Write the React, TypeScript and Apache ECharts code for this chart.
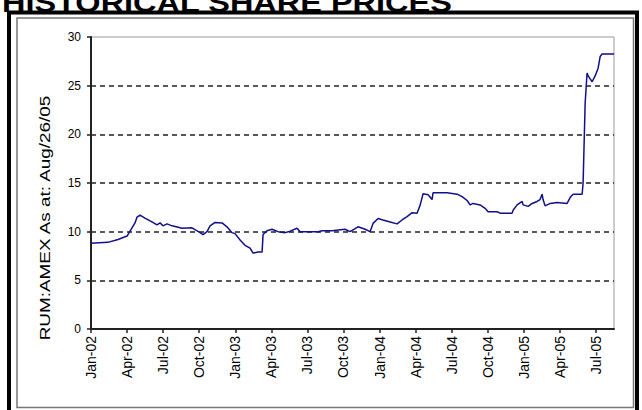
import React, { useEffect, useRef } from "react";
import * as echarts from "echarts";

// x = months since Jan-2002, y = share price (USD)
const months: number[] = [
  0, 1.41, 2.25, 3.0, 3.41, 3.66, 3.83, 4.08, 4.49, 5.07, 5.49, 5.74, 5.99, 6.32, 6.74, 7.57,
  8.4, 8.65, 9.07, 9.32, 9.65, 9.9, 10.32, 10.9, 11.31, 11.73, 11.98, 12.4, 12.81, 13.23, 13.48,
  13.89, 14.23, 14.31, 14.64, 15.06, 15.56, 16.14, 16.56, 17.14, 17.39, 18.89, 19.22, 20.05,
  21.13, 21.55, 22.21, 22.8, 23.21, 23.46, 23.88, 24.29, 24.88, 25.46, 25.87, 26.29, 26.71,
  27.12, 27.37, 27.62, 28.04, 28.37, 28.45, 29.62, 30.45, 30.87, 31.28, 31.53, 31.78, 32.36,
  32.78, 33.03, 33.78, 34.03, 35.02, 35.11, 35.44, 35.86, 35.94, 36.36, 36.69, 37.1, 37.35,
  37.52, 37.6, 37.77, 38.19, 38.77, 39.6, 39.85, 40.1, 40.85, 40.93, 41.1, 41.26, 41.35, 41.68,
  41.93, 42.18, 42.35, 42.51, 43.5,
];
const prices: number[] = [
  8.8, 8.9, 9.2, 9.55, 10.4, 10.9, 11.5, 11.7, 11.4, 11.0, 10.7, 10.9, 10.6, 10.8, 10.6, 10.35,
  10.4, 10.2, 9.9, 9.7, 10.0, 10.6, 10.95, 10.9, 10.5, 9.9, 9.8, 9.15, 8.6, 8.3, 7.8,
  7.9, 7.9, 9.7, 10.1, 10.25, 10.0, 9.9, 10.05, 10.35, 10.0, 10.0, 10.1, 10.1,
  10.25, 10.0, 10.5, 10.25, 10.0, 10.85, 11.35, 11.2, 11.0, 10.8, 11.2, 11.55, 11.95,
  11.9, 12.7, 13.9, 13.8, 13.3, 14.0, 14.0, 13.85, 13.6, 13.2, 12.75, 12.9, 12.75,
  12.4, 12.05, 12.05, 11.9, 11.9, 12.2, 12.75, 13.1, 12.75, 12.6, 12.9, 13.1, 13.3,
  13.85, 13.3, 12.65, 12.9, 13.0, 12.9, 13.5, 13.85, 13.85, 15.0, 23.2, 26.3, 26.0, 25.4,
  26.0, 26.8, 28.0, 28.25, 28.25,
];
const quarterLabels: string[] = [
  "Jan-02", "Apr-02", "Jul-02", "Oct-02", "Jan-03", "Apr-03", "Jul-03", "Oct-03",
  "Jan-04", "Apr-04", "Jul-04", "Oct-04", "Jan-05", "Apr-05", "Jul-05",
];
const yTicks: number[] = [0, 5, 10, 15, 20, 25, 30];
const titleText = "HISTORICAL SHARE PRICES";
const yTitle = "RUM:AMEX As at: Aug/26/05";

const FONT = "'Liberation Sans', Arial, sans-serif";

export default function App() {
  const ref = useRef<HTMLDivElement>(null);
  useEffect(() => {
    if (!ref.current) return;
    const chart = echarts.init(ref.current, null, { renderer: "svg" });
    const quarterPos = quarterLabels.map((_, i) => i * 3);
    chart.setOption({
      animation: false,
      backgroundColor: "#fff",
      textStyle: { fontFamily: FONT },
      graphic: [
        {
          type: "rect",
          shape: { x: 9, y: 12.5, width: 628, height: 420 },
          style: { fill: "none", stroke: "#000", lineWidth: 4 },
          silent: true,
        },
        {
          type: "rect",
          shape: { x: 17, y: 18, width: 616.5, height: 389.5 },
          style: { fill: "none", stroke: "#777", lineWidth: 1.5 },
          silent: true,
        },
        {
          type: "text",
          x: 2,
          y: 16,
          scaleX: 1.16,
          style: {
            text: titleText,
            font: `bold 28px ${FONT}`,
            fill: "#000",
            textAlign: "left",
            textVerticalAlign: "bottom",
          },
          silent: true,
        },
        {
          type: "text",
          x: 45,
          y: 218,
          rotation: Math.PI / 2,
          scaleX: 1.22,
          style: {
            text: yTitle,
            font: `15.5px ${FONT}`,
            fill: "#000",
            textAlign: "center",
            textVerticalAlign: "middle",
          },
          silent: true,
        },
      ],
      grid: {
        left: 91,
        top: 37,
        right: 28,
        bottom: 81,
        show: true,
        borderColor: "#999",
        borderWidth: 1,
        backgroundColor: "#fff",
      },
      xAxis: {
        type: "value",
        min: 0,
        max: 43.5,
        interval: 3,
        axisLine: { show: true, lineStyle: { color: "#222", width: 2 } },
        axisTick: {
          show: true,
          length: 4,
          customValues: quarterPos,
          lineStyle: { color: "#222", width: 1.5 },
        },
        axisLabel: {
          customValues: quarterPos,
          rotate: 90,
          margin: 7,
          fontSize: 14,
          color: "#000",
          fontFamily: FONT,
          formatter: (v: number) => {
            const i = Math.round(v / 3);
            return Math.abs(v - i * 3) < 1e-6 && quarterLabels[i] ? quarterLabels[i] : "";
          },
        },
        splitLine: { show: false },
      },
      yAxis: {
        type: "value",
        min: yTicks[0],
        max: yTicks[yTicks.length - 1],
        interval: 5,
        axisLine: { show: true, lineStyle: { color: "#222", width: 2 } },
        axisTick: { show: true, length: 4, lineStyle: { color: "#222", width: 1.5 } },
        axisLabel: { margin: 10, fontSize: 12, color: "#000", fontFamily: FONT },
        splitLine: {
          show: true,
          showMinLine: false,
          showMaxLine: false,
          lineStyle: { color: "#222", width: 1.5, type: [5, 4] },
        },
      },
      series: [
        {
          type: "line",
          data: months.map((m, i) => [m, prices[i]]),
          showSymbol: false,
          symbol: "none",
          lineStyle: { color: "#10108a", width: 1.5 },
          z: 3,
        },
      ],
    });
    return () => chart.dispose();
  }, []);
  return (
    <div
      ref={ref}
      style={{ position: "fixed", left: 0, top: 0, width: 642, height: 410, background: "#fff" }}
    />
  );
}
